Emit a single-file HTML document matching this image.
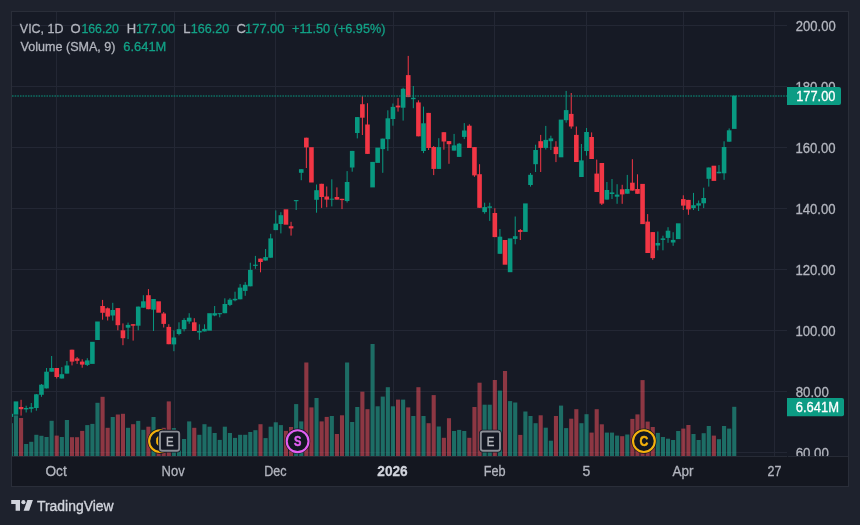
<!DOCTYPE html>
<html><head><meta charset="utf-8"><style>
html,body{margin:0;padding:0;width:860px;height:525px;overflow:hidden;background:#1e222d;}
svg{position:absolute;left:0;top:0;display:block;will-change:transform;}
text{font-family:"Liberation Sans",sans-serif;}
</style></head><body>
<svg width="860" height="525" viewBox="0 0 860 525">
<rect x="0" y="0" width="860" height="525" fill="#1e222d"/>
<rect x="11" y="11" width="838" height="476" fill="#161a25"/>
<rect x="12" y="457" width="836" height="29" fill="#141720"/>
<rect x="11" y="11" width="838" height="1" fill="#2a2e39"/>
<rect x="11" y="486" width="838" height="1" fill="#2a2e39"/>
<rect x="11" y="11" width="1" height="476" fill="#2a2e39"/>
<rect x="848" y="11" width="1" height="476" fill="#2a2e39"/>
<rect x="12" y="25" width="775" height="1" fill="#232734"/>
<rect x="12" y="86" width="775" height="1" fill="#232734"/>
<rect x="12" y="147" width="775" height="1" fill="#232734"/>
<rect x="12" y="208" width="775" height="1" fill="#232734"/>
<rect x="12" y="269" width="775" height="1" fill="#232734"/>
<rect x="12" y="330" width="775" height="1" fill="#232734"/>
<rect x="12" y="391" width="775" height="1" fill="#232734"/>
<rect x="12" y="452" width="775" height="1" fill="#232734"/>
<rect x="56" y="12" width="1" height="444" fill="#232734"/>
<rect x="174" y="12" width="1" height="444" fill="#232734"/>
<rect x="275" y="12" width="1" height="444" fill="#232734"/>
<rect x="393" y="12" width="1" height="444" fill="#232734"/>
<rect x="494" y="12" width="1" height="444" fill="#232734"/>
<rect x="586" y="12" width="1" height="444" fill="#232734"/>
<rect x="683" y="12" width="1" height="444" fill="#232734"/>
<rect x="774" y="12" width="1" height="444" fill="#232734"/>
<rect x="12" y="456" width="775" height="1" fill="#272b36"/>
<rect x="788" y="456" width="60" height="1" fill="#272b36"/>
<defs><clipPath id="pane"><rect x="12" y="12" width="775" height="444"/></clipPath><clipPath id="pax"><rect x="787" y="12" width="61" height="444"/></clipPath></defs>
<g clip-path="url(#pane)">
<rect x="8.83" y="423.2" width="4.1" height="32.8" fill="rgba(34,171,148,0.58)"/>
<rect x="13.92" y="415.4" width="4.1" height="40.6" fill="rgba(34,171,148,0.58)"/>
<rect x="19.02" y="418.0" width="4.1" height="38.0" fill="rgba(247,82,95,0.53)"/>
<rect x="24.11" y="444.0" width="4.1" height="12.0" fill="rgba(34,171,148,0.58)"/>
<rect x="29.21" y="441.8" width="4.1" height="14.2" fill="rgba(34,171,148,0.58)"/>
<rect x="34.30" y="434.8" width="4.1" height="21.2" fill="rgba(34,171,148,0.58)"/>
<rect x="39.40" y="435.8" width="4.1" height="20.2" fill="rgba(34,171,148,0.58)"/>
<rect x="44.49" y="437.0" width="4.1" height="19.0" fill="rgba(34,171,148,0.58)"/>
<rect x="49.58" y="420.8" width="4.1" height="35.2" fill="rgba(34,171,148,0.58)"/>
<rect x="54.68" y="435.6" width="4.1" height="20.4" fill="rgba(247,82,95,0.53)"/>
<rect x="59.77" y="437.0" width="4.1" height="19.0" fill="rgba(34,171,148,0.58)"/>
<rect x="64.87" y="420.0" width="4.1" height="36.0" fill="rgba(34,171,148,0.58)"/>
<rect x="69.96" y="437.2" width="4.1" height="18.8" fill="rgba(247,82,95,0.53)"/>
<rect x="75.05" y="437.2" width="4.1" height="18.8" fill="rgba(247,82,95,0.53)"/>
<rect x="80.15" y="430.9" width="4.1" height="25.1" fill="rgba(247,82,95,0.53)"/>
<rect x="85.24" y="425.1" width="4.1" height="30.9" fill="rgba(34,171,148,0.58)"/>
<rect x="90.34" y="423.9" width="4.1" height="32.1" fill="rgba(34,171,148,0.58)"/>
<rect x="95.43" y="402.8" width="4.1" height="53.2" fill="rgba(34,171,148,0.58)"/>
<rect x="100.53" y="396.8" width="4.1" height="59.2" fill="rgba(247,82,95,0.53)"/>
<rect x="105.62" y="427.8" width="4.1" height="28.2" fill="rgba(247,82,95,0.53)"/>
<rect x="110.71" y="417.0" width="4.1" height="39.0" fill="rgba(34,171,148,0.58)"/>
<rect x="115.81" y="414.5" width="4.1" height="41.5" fill="rgba(247,82,95,0.53)"/>
<rect x="120.90" y="413.8" width="4.1" height="42.2" fill="rgba(247,82,95,0.53)"/>
<rect x="126.00" y="427.8" width="4.1" height="28.2" fill="rgba(34,171,148,0.58)"/>
<rect x="131.09" y="424.2" width="4.1" height="31.8" fill="rgba(247,82,95,0.53)"/>
<rect x="136.18" y="420.9" width="4.1" height="35.1" fill="rgba(34,171,148,0.58)"/>
<rect x="141.28" y="429.8" width="4.1" height="26.2" fill="rgba(34,171,148,0.58)"/>
<rect x="146.37" y="426.7" width="4.1" height="29.3" fill="rgba(247,82,95,0.53)"/>
<rect x="151.47" y="417.0" width="4.1" height="39.0" fill="rgba(34,171,148,0.58)"/>
<rect x="156.56" y="430.0" width="4.1" height="26.0" fill="rgba(247,82,95,0.53)"/>
<rect x="161.66" y="427.8" width="4.1" height="28.2" fill="rgba(247,82,95,0.53)"/>
<rect x="166.75" y="401.4" width="4.1" height="54.6" fill="rgba(247,82,95,0.53)"/>
<rect x="171.84" y="428.1" width="4.1" height="27.9" fill="rgba(34,171,148,0.58)"/>
<rect x="176.94" y="440.0" width="4.1" height="16.0" fill="rgba(34,171,148,0.58)"/>
<rect x="182.03" y="439.0" width="4.1" height="17.0" fill="rgba(34,171,148,0.58)"/>
<rect x="187.13" y="421.4" width="4.1" height="34.6" fill="rgba(34,171,148,0.58)"/>
<rect x="192.22" y="427.8" width="4.1" height="28.2" fill="rgba(247,82,95,0.53)"/>
<rect x="197.32" y="434.8" width="4.1" height="21.2" fill="rgba(34,171,148,0.58)"/>
<rect x="202.41" y="424.2" width="4.1" height="31.8" fill="rgba(34,171,148,0.58)"/>
<rect x="207.50" y="426.7" width="4.1" height="29.3" fill="rgba(34,171,148,0.58)"/>
<rect x="212.60" y="433.0" width="4.1" height="23.0" fill="rgba(34,171,148,0.58)"/>
<rect x="217.69" y="439.9" width="4.1" height="16.1" fill="rgba(34,171,148,0.58)"/>
<rect x="222.79" y="426.7" width="4.1" height="29.3" fill="rgba(34,171,148,0.58)"/>
<rect x="227.88" y="433.0" width="4.1" height="23.0" fill="rgba(34,171,148,0.58)"/>
<rect x="232.97" y="437.9" width="4.1" height="18.1" fill="rgba(34,171,148,0.58)"/>
<rect x="238.07" y="434.8" width="4.1" height="21.2" fill="rgba(34,171,148,0.58)"/>
<rect x="243.16" y="434.8" width="4.1" height="21.2" fill="rgba(34,171,148,0.58)"/>
<rect x="248.26" y="432.0" width="4.1" height="24.0" fill="rgba(34,171,148,0.58)"/>
<rect x="253.35" y="430.2" width="4.1" height="25.8" fill="rgba(34,171,148,0.58)"/>
<rect x="258.45" y="424.2" width="4.1" height="31.8" fill="rgba(247,82,95,0.53)"/>
<rect x="263.54" y="438.1" width="4.1" height="17.9" fill="rgba(34,171,148,0.58)"/>
<rect x="268.63" y="426.7" width="4.1" height="29.3" fill="rgba(34,171,148,0.58)"/>
<rect x="273.73" y="422.3" width="4.1" height="33.7" fill="rgba(34,171,148,0.58)"/>
<rect x="278.82" y="425.1" width="4.1" height="30.9" fill="rgba(34,171,148,0.58)"/>
<rect x="283.92" y="430.9" width="4.1" height="25.1" fill="rgba(247,82,95,0.53)"/>
<rect x="289.01" y="427.0" width="4.1" height="29.0" fill="rgba(247,82,95,0.53)"/>
<rect x="294.11" y="404.1" width="4.1" height="51.9" fill="rgba(34,171,148,0.58)"/>
<rect x="299.20" y="421.4" width="4.1" height="34.6" fill="rgba(34,171,148,0.58)"/>
<rect x="304.29" y="362.5" width="4.1" height="93.5" fill="rgba(247,82,95,0.53)"/>
<rect x="309.39" y="407.4" width="4.1" height="48.6" fill="rgba(247,82,95,0.53)"/>
<rect x="314.48" y="398.0" width="4.1" height="58.0" fill="rgba(34,171,148,0.58)"/>
<rect x="319.58" y="421.4" width="4.1" height="34.6" fill="rgba(247,82,95,0.53)"/>
<rect x="324.67" y="416.9" width="4.1" height="39.1" fill="rgba(247,82,95,0.53)"/>
<rect x="329.76" y="416.0" width="4.1" height="40.0" fill="rgba(34,171,148,0.58)"/>
<rect x="334.86" y="434.0" width="4.1" height="22.0" fill="rgba(247,82,95,0.53)"/>
<rect x="339.95" y="415.3" width="4.1" height="40.7" fill="rgba(247,82,95,0.53)"/>
<rect x="345.05" y="362.5" width="4.1" height="93.5" fill="rgba(34,171,148,0.58)"/>
<rect x="350.14" y="422.0" width="4.1" height="34.0" fill="rgba(34,171,148,0.58)"/>
<rect x="355.24" y="407.0" width="4.1" height="49.0" fill="rgba(34,171,148,0.58)"/>
<rect x="360.33" y="391.7" width="4.1" height="64.3" fill="rgba(247,82,95,0.53)"/>
<rect x="365.42" y="409.2" width="4.1" height="46.8" fill="rgba(247,82,95,0.53)"/>
<rect x="370.52" y="344.0" width="4.1" height="112.0" fill="rgba(34,171,148,0.58)"/>
<rect x="375.61" y="406.3" width="4.1" height="49.7" fill="rgba(34,171,148,0.58)"/>
<rect x="380.71" y="396.6" width="4.1" height="59.4" fill="rgba(34,171,148,0.58)"/>
<rect x="385.80" y="387.2" width="4.1" height="68.8" fill="rgba(34,171,148,0.58)"/>
<rect x="390.89" y="406.3" width="4.1" height="49.7" fill="rgba(34,171,148,0.58)"/>
<rect x="395.99" y="399.6" width="4.1" height="56.4" fill="rgba(247,82,95,0.53)"/>
<rect x="401.08" y="399.6" width="4.1" height="56.4" fill="rgba(34,171,148,0.58)"/>
<rect x="406.18" y="407.4" width="4.1" height="48.6" fill="rgba(247,82,95,0.53)"/>
<rect x="411.27" y="416.0" width="4.1" height="40.0" fill="rgba(34,171,148,0.58)"/>
<rect x="416.37" y="387.2" width="4.1" height="68.8" fill="rgba(247,82,95,0.53)"/>
<rect x="421.46" y="416.0" width="4.1" height="40.0" fill="rgba(34,171,148,0.58)"/>
<rect x="426.55" y="423.2" width="4.1" height="32.8" fill="rgba(247,82,95,0.53)"/>
<rect x="431.65" y="395.1" width="4.1" height="60.9" fill="rgba(247,82,95,0.53)"/>
<rect x="436.74" y="426.5" width="4.1" height="29.5" fill="rgba(34,171,148,0.58)"/>
<rect x="441.84" y="437.8" width="4.1" height="18.2" fill="rgba(247,82,95,0.53)"/>
<rect x="446.93" y="418.2" width="4.1" height="37.8" fill="rgba(247,82,95,0.53)"/>
<rect x="452.03" y="431.0" width="4.1" height="25.0" fill="rgba(34,171,148,0.58)"/>
<rect x="457.12" y="429.9" width="4.1" height="26.1" fill="rgba(34,171,148,0.58)"/>
<rect x="462.21" y="431.0" width="4.1" height="25.0" fill="rgba(34,171,148,0.58)"/>
<rect x="467.31" y="437.8" width="4.1" height="18.2" fill="rgba(247,82,95,0.53)"/>
<rect x="472.40" y="407.0" width="4.1" height="49.0" fill="rgba(247,82,95,0.53)"/>
<rect x="477.50" y="382.7" width="4.1" height="73.3" fill="rgba(247,82,95,0.53)"/>
<rect x="482.59" y="404.7" width="4.1" height="51.3" fill="rgba(34,171,148,0.58)"/>
<rect x="487.68" y="404.7" width="4.1" height="51.3" fill="rgba(34,171,148,0.58)"/>
<rect x="492.78" y="380.0" width="4.1" height="76.0" fill="rgba(247,82,95,0.53)"/>
<rect x="497.87" y="390.6" width="4.1" height="65.4" fill="rgba(34,171,148,0.58)"/>
<rect x="502.97" y="371.0" width="4.1" height="85.0" fill="rgba(247,82,95,0.53)"/>
<rect x="508.06" y="401.1" width="4.1" height="54.9" fill="rgba(34,171,148,0.58)"/>
<rect x="513.16" y="402.5" width="4.1" height="53.5" fill="rgba(34,171,148,0.58)"/>
<rect x="518.25" y="434.9" width="4.1" height="21.1" fill="rgba(247,82,95,0.53)"/>
<rect x="523.34" y="411.5" width="4.1" height="44.5" fill="rgba(34,171,148,0.58)"/>
<rect x="528.44" y="416.0" width="4.1" height="40.0" fill="rgba(34,171,148,0.58)"/>
<rect x="533.53" y="423.2" width="4.1" height="32.8" fill="rgba(34,171,148,0.58)"/>
<rect x="538.63" y="415.3" width="4.1" height="40.7" fill="rgba(247,82,95,0.53)"/>
<rect x="543.72" y="427.7" width="4.1" height="28.3" fill="rgba(34,171,148,0.58)"/>
<rect x="548.82" y="440.7" width="4.1" height="15.3" fill="rgba(34,171,148,0.58)"/>
<rect x="553.91" y="416.0" width="4.1" height="40.0" fill="rgba(247,82,95,0.53)"/>
<rect x="559.00" y="405.6" width="4.1" height="50.4" fill="rgba(34,171,148,0.58)"/>
<rect x="564.10" y="428.1" width="4.1" height="27.9" fill="rgba(34,171,148,0.58)"/>
<rect x="569.19" y="418.7" width="4.1" height="37.3" fill="rgba(247,82,95,0.53)"/>
<rect x="574.29" y="409.2" width="4.1" height="46.8" fill="rgba(247,82,95,0.53)"/>
<rect x="579.38" y="423.2" width="4.1" height="32.8" fill="rgba(34,171,148,0.58)"/>
<rect x="584.47" y="414.2" width="4.1" height="41.8" fill="rgba(34,171,148,0.58)"/>
<rect x="589.57" y="432.6" width="4.1" height="23.4" fill="rgba(247,82,95,0.53)"/>
<rect x="594.66" y="409.2" width="4.1" height="46.8" fill="rgba(247,82,95,0.53)"/>
<rect x="599.76" y="424.3" width="4.1" height="31.7" fill="rgba(247,82,95,0.53)"/>
<rect x="604.85" y="432.6" width="4.1" height="23.4" fill="rgba(34,171,148,0.58)"/>
<rect x="609.95" y="432.6" width="4.1" height="23.4" fill="rgba(34,171,148,0.58)"/>
<rect x="615.04" y="435.6" width="4.1" height="20.4" fill="rgba(34,171,148,0.58)"/>
<rect x="620.13" y="436.2" width="4.1" height="19.8" fill="rgba(247,82,95,0.53)"/>
<rect x="625.23" y="434.5" width="4.1" height="21.5" fill="rgba(34,171,148,0.58)"/>
<rect x="630.32" y="418.9" width="4.1" height="37.1" fill="rgba(247,82,95,0.53)"/>
<rect x="635.42" y="414.4" width="4.1" height="41.6" fill="rgba(247,82,95,0.53)"/>
<rect x="640.51" y="380.1" width="4.1" height="75.9" fill="rgba(247,82,95,0.53)"/>
<rect x="645.61" y="421.6" width="4.1" height="34.4" fill="rgba(247,82,95,0.53)"/>
<rect x="650.70" y="427.0" width="4.1" height="29.0" fill="rgba(247,82,95,0.53)"/>
<rect x="655.79" y="432.9" width="4.1" height="23.1" fill="rgba(34,171,148,0.58)"/>
<rect x="660.89" y="437.0" width="4.1" height="19.0" fill="rgba(34,171,148,0.58)"/>
<rect x="665.98" y="438.7" width="4.1" height="17.3" fill="rgba(34,171,148,0.58)"/>
<rect x="671.08" y="440.0" width="4.1" height="16.0" fill="rgba(34,171,148,0.58)"/>
<rect x="676.17" y="431.0" width="4.1" height="25.0" fill="rgba(34,171,148,0.58)"/>
<rect x="681.26" y="428.6" width="4.1" height="27.4" fill="rgba(247,82,95,0.53)"/>
<rect x="686.36" y="425.0" width="4.1" height="31.0" fill="rgba(247,82,95,0.53)"/>
<rect x="691.45" y="434.0" width="4.1" height="22.0" fill="rgba(34,171,148,0.58)"/>
<rect x="696.55" y="440.0" width="4.1" height="16.0" fill="rgba(34,171,148,0.58)"/>
<rect x="701.64" y="433.2" width="4.1" height="22.8" fill="rgba(34,171,148,0.58)"/>
<rect x="706.74" y="426.0" width="4.1" height="30.0" fill="rgba(34,171,148,0.58)"/>
<rect x="711.83" y="435.6" width="4.1" height="20.4" fill="rgba(247,82,95,0.53)"/>
<rect x="716.92" y="439.2" width="4.1" height="16.8" fill="rgba(34,171,148,0.58)"/>
<rect x="722.02" y="426.0" width="4.1" height="30.0" fill="rgba(34,171,148,0.58)"/>
<rect x="727.11" y="428.6" width="4.1" height="27.4" fill="rgba(34,171,148,0.58)"/>
<rect x="732.21" y="406.8" width="4.1" height="49.2" fill="rgba(34,171,148,0.58)"/>
<rect x="8.58" y="413.8" width="4.6" height="3.1" fill="#089981"/>
<rect x="13.67" y="401.4" width="4.6" height="13.2" fill="#089981"/>
<rect x="20.57" y="399.8" width="1.0" height="15.8" fill="#f23645"/>
<rect x="18.77" y="407.0" width="4.6" height="2.2" fill="#f23645"/>
<rect x="25.66" y="405.7" width="1.0" height="6.8" fill="#089981"/>
<rect x="23.86" y="408.0" width="4.6" height="1.4" fill="#089981"/>
<rect x="30.76" y="403.0" width="1.0" height="9.5" fill="#089981"/>
<rect x="28.96" y="407.2" width="4.6" height="1.6" fill="#089981"/>
<rect x="35.85" y="394.0" width="1.0" height="16.7" fill="#089981"/>
<rect x="34.05" y="394.3" width="4.6" height="13.7" fill="#089981"/>
<rect x="40.95" y="384.0" width="1.0" height="12.8" fill="#089981"/>
<rect x="39.15" y="384.7" width="4.6" height="10.1" fill="#089981"/>
<rect x="46.04" y="368.0" width="1.0" height="20.4" fill="#089981"/>
<rect x="44.24" y="371.7" width="4.6" height="16.7" fill="#089981"/>
<rect x="51.13" y="356.0" width="1.0" height="15.7" fill="#089981"/>
<rect x="49.33" y="368.0" width="4.6" height="3.7" fill="#089981"/>
<rect x="56.23" y="368.0" width="1.0" height="10.5" fill="#f23645"/>
<rect x="54.43" y="368.0" width="4.6" height="9.0" fill="#f23645"/>
<rect x="61.32" y="367.1" width="1.0" height="11.4" fill="#089981"/>
<rect x="59.52" y="374.2" width="4.6" height="4.3" fill="#089981"/>
<rect x="66.42" y="361.0" width="1.0" height="12.6" fill="#089981"/>
<rect x="64.62" y="365.5" width="4.6" height="8.1" fill="#089981"/>
<rect x="71.51" y="349.7" width="1.0" height="15.7" fill="#f23645"/>
<rect x="69.71" y="349.7" width="4.6" height="11.9" fill="#f23645"/>
<rect x="76.60" y="357.0" width="1.0" height="6.9" fill="#f23645"/>
<rect x="74.80" y="358.5" width="4.6" height="2.3" fill="#f23645"/>
<rect x="81.70" y="359.3" width="1.0" height="8.4" fill="#f23645"/>
<rect x="79.90" y="361.6" width="4.6" height="3.0" fill="#f23645"/>
<rect x="86.79" y="358.2" width="1.0" height="7.8" fill="#089981"/>
<rect x="84.99" y="360.4" width="4.6" height="4.5" fill="#089981"/>
<rect x="90.09" y="341.8" width="4.6" height="22.1" fill="#089981"/>
<rect x="95.18" y="321.5" width="4.6" height="18.5" fill="#089981"/>
<rect x="102.08" y="299.9" width="1.0" height="19.8" fill="#f23645"/>
<rect x="100.28" y="306.0" width="4.6" height="6.8" fill="#f23645"/>
<rect x="107.17" y="307.5" width="1.0" height="13.0" fill="#f23645"/>
<rect x="105.37" y="308.3" width="4.6" height="8.3" fill="#f23645"/>
<rect x="112.26" y="302.8" width="1.0" height="17.8" fill="#089981"/>
<rect x="110.46" y="310.0" width="4.6" height="5.5" fill="#089981"/>
<rect x="117.36" y="308.1" width="1.0" height="22.2" fill="#f23645"/>
<rect x="115.56" y="308.1" width="4.6" height="17.1" fill="#f23645"/>
<rect x="122.45" y="323.4" width="1.0" height="21.8" fill="#f23645"/>
<rect x="120.65" y="330.3" width="4.6" height="7.9" fill="#f23645"/>
<rect x="127.55" y="322.6" width="1.0" height="16.5" fill="#089981"/>
<rect x="125.75" y="324.9" width="4.6" height="2.8" fill="#089981"/>
<rect x="132.64" y="324.2" width="1.0" height="16.4" fill="#f23645"/>
<rect x="130.84" y="324.2" width="4.6" height="1.5" fill="#f23645"/>
<rect x="137.73" y="306.6" width="1.0" height="23.7" fill="#089981"/>
<rect x="135.93" y="306.6" width="4.6" height="19.1" fill="#089981"/>
<rect x="142.83" y="295.2" width="1.0" height="12.5" fill="#089981"/>
<rect x="141.03" y="301.3" width="4.6" height="6.4" fill="#089981"/>
<rect x="147.92" y="289.1" width="1.0" height="20.1" fill="#f23645"/>
<rect x="146.12" y="295.2" width="4.6" height="14.0" fill="#f23645"/>
<rect x="153.02" y="299.0" width="1.0" height="32.0" fill="#089981"/>
<rect x="151.22" y="299.0" width="4.6" height="10.7" fill="#089981"/>
<rect x="156.31" y="301.3" width="4.6" height="11.4" fill="#f23645"/>
<rect x="163.21" y="312.0" width="1.0" height="15.5" fill="#f23645"/>
<rect x="161.41" y="313.5" width="4.6" height="10.4" fill="#f23645"/>
<rect x="168.30" y="324.2" width="1.0" height="20.0" fill="#f23645"/>
<rect x="166.50" y="326.9" width="4.6" height="17.3" fill="#f23645"/>
<rect x="173.39" y="330.4" width="1.0" height="20.8" fill="#089981"/>
<rect x="171.59" y="337.5" width="4.6" height="6.9" fill="#089981"/>
<rect x="178.49" y="322.3" width="1.0" height="13.0" fill="#089981"/>
<rect x="176.69" y="329.2" width="4.6" height="4.8" fill="#089981"/>
<rect x="183.58" y="318.2" width="1.0" height="13.2" fill="#089981"/>
<rect x="181.78" y="320.0" width="4.6" height="9.2" fill="#089981"/>
<rect x="188.68" y="313.2" width="1.0" height="10.6" fill="#089981"/>
<rect x="186.88" y="317.7" width="4.6" height="3.8" fill="#089981"/>
<rect x="193.77" y="318.2" width="1.0" height="12.8" fill="#f23645"/>
<rect x="191.97" y="322.3" width="4.6" height="8.7" fill="#f23645"/>
<rect x="198.87" y="324.3" width="1.0" height="15.5" fill="#089981"/>
<rect x="197.07" y="331.0" width="4.6" height="1.5" fill="#089981"/>
<rect x="203.96" y="324.3" width="1.0" height="7.1" fill="#089981"/>
<rect x="202.16" y="328.9" width="4.6" height="2.5" fill="#089981"/>
<rect x="207.25" y="313.2" width="4.6" height="17.5" fill="#089981"/>
<rect x="214.15" y="306.0" width="1.0" height="10.2" fill="#089981"/>
<rect x="212.35" y="313.2" width="4.6" height="2.3" fill="#089981"/>
<rect x="219.24" y="313.2" width="1.0" height="4.1" fill="#089981"/>
<rect x="217.44" y="313.2" width="4.6" height="1.0" fill="#089981"/>
<rect x="224.34" y="298.3" width="1.0" height="14.9" fill="#089981"/>
<rect x="222.54" y="304.0" width="4.6" height="9.2" fill="#089981"/>
<rect x="229.43" y="298.2" width="1.0" height="7.9" fill="#089981"/>
<rect x="227.63" y="299.7" width="4.6" height="5.2" fill="#089981"/>
<rect x="234.52" y="291.7" width="1.0" height="9.6" fill="#089981"/>
<rect x="232.72" y="298.8" width="4.6" height="1.5" fill="#089981"/>
<rect x="239.62" y="284.1" width="1.0" height="15.2" fill="#089981"/>
<rect x="237.82" y="287.6" width="4.6" height="11.7" fill="#089981"/>
<rect x="244.71" y="282.1" width="1.0" height="13.7" fill="#089981"/>
<rect x="242.91" y="284.8" width="4.6" height="6.1" fill="#089981"/>
<rect x="249.81" y="262.7" width="1.0" height="23.6" fill="#089981"/>
<rect x="248.01" y="269.9" width="4.6" height="16.4" fill="#089981"/>
<rect x="254.90" y="255.9" width="1.0" height="12.9" fill="#089981"/>
<rect x="253.10" y="264.7" width="4.6" height="1.2" fill="#089981"/>
<rect x="260.00" y="258.6" width="1.0" height="13.7" fill="#f23645"/>
<rect x="258.20" y="258.6" width="4.6" height="3.4" fill="#f23645"/>
<rect x="265.09" y="249.0" width="1.0" height="11.5" fill="#089981"/>
<rect x="263.29" y="257.1" width="4.6" height="3.4" fill="#089981"/>
<rect x="270.18" y="233.8" width="1.0" height="23.9" fill="#089981"/>
<rect x="268.38" y="238.4" width="4.6" height="19.3" fill="#089981"/>
<rect x="275.28" y="210.4" width="1.0" height="19.7" fill="#089981"/>
<rect x="273.48" y="223.6" width="4.6" height="6.5" fill="#089981"/>
<rect x="280.37" y="212.2" width="1.0" height="21.2" fill="#089981"/>
<rect x="278.57" y="215.2" width="4.6" height="8.8" fill="#089981"/>
<rect x="283.67" y="209.3" width="4.6" height="15.4" fill="#f23645"/>
<rect x="290.56" y="221.8" width="1.0" height="13.8" fill="#f23645"/>
<rect x="288.76" y="226.2" width="4.6" height="2.2" fill="#f23645"/>
<rect x="295.66" y="200.1" width="1.0" height="9.9" fill="#089981"/>
<rect x="293.86" y="200.1" width="4.6" height="1.1" fill="#089981"/>
<rect x="300.75" y="169.2" width="1.0" height="11.0" fill="#089981"/>
<rect x="298.95" y="169.2" width="4.6" height="3.6" fill="#089981"/>
<rect x="305.84" y="137.7" width="1.0" height="30.3" fill="#f23645"/>
<rect x="304.04" y="137.7" width="4.6" height="9.7" fill="#f23645"/>
<rect x="309.14" y="147.2" width="4.6" height="35.3" fill="#f23645"/>
<rect x="316.03" y="184.5" width="1.0" height="28.2" fill="#089981"/>
<rect x="314.23" y="190.2" width="4.6" height="9.6" fill="#089981"/>
<rect x="321.13" y="183.8" width="1.0" height="24.1" fill="#f23645"/>
<rect x="319.33" y="183.8" width="4.6" height="13.2" fill="#f23645"/>
<rect x="326.22" y="186.5" width="1.0" height="20.8" fill="#f23645"/>
<rect x="324.42" y="196.5" width="4.6" height="3.1" fill="#f23645"/>
<rect x="331.31" y="179.3" width="1.0" height="27.1" fill="#089981"/>
<rect x="329.51" y="198.7" width="4.6" height="1.0" fill="#089981"/>
<rect x="336.41" y="187.4" width="1.0" height="12.2" fill="#f23645"/>
<rect x="334.61" y="197.0" width="4.6" height="2.6" fill="#f23645"/>
<rect x="341.50" y="198.8" width="1.0" height="10.3" fill="#f23645"/>
<rect x="339.70" y="198.8" width="4.6" height="1.3" fill="#f23645"/>
<rect x="346.60" y="171.1" width="1.0" height="31.4" fill="#089981"/>
<rect x="344.80" y="182.0" width="4.6" height="19.0" fill="#089981"/>
<rect x="351.69" y="150.9" width="1.0" height="20.8" fill="#089981"/>
<rect x="349.89" y="150.9" width="4.6" height="16.6" fill="#089981"/>
<rect x="356.79" y="117.1" width="1.0" height="21.3" fill="#089981"/>
<rect x="354.99" y="117.1" width="4.6" height="15.9" fill="#089981"/>
<rect x="361.88" y="96.2" width="1.0" height="38.8" fill="#f23645"/>
<rect x="360.08" y="104.2" width="4.6" height="13.5" fill="#f23645"/>
<rect x="366.97" y="103.2" width="1.0" height="50.7" fill="#f23645"/>
<rect x="365.17" y="124.5" width="4.6" height="29.4" fill="#f23645"/>
<rect x="370.27" y="161.9" width="4.6" height="25.5" fill="#089981"/>
<rect x="375.36" y="147.6" width="4.6" height="15.3" fill="#089981"/>
<rect x="382.26" y="138.6" width="1.0" height="34.2" fill="#089981"/>
<rect x="380.46" y="138.6" width="4.6" height="10.5" fill="#089981"/>
<rect x="387.35" y="110.3" width="1.0" height="40.5" fill="#089981"/>
<rect x="385.55" y="118.3" width="4.6" height="20.9" fill="#089981"/>
<rect x="392.44" y="103.5" width="1.0" height="22.2" fill="#089981"/>
<rect x="390.64" y="106.9" width="4.6" height="12.1" fill="#089981"/>
<rect x="397.54" y="98.1" width="1.0" height="13.5" fill="#f23645"/>
<rect x="395.74" y="105.6" width="4.6" height="1.8" fill="#f23645"/>
<rect x="402.63" y="87.7" width="1.0" height="32.9" fill="#089981"/>
<rect x="400.83" y="88.8" width="4.6" height="18.9" fill="#089981"/>
<rect x="407.73" y="55.9" width="1.0" height="41.2" fill="#f23645"/>
<rect x="405.93" y="75.1" width="4.6" height="22.0" fill="#f23645"/>
<rect x="412.82" y="86.0" width="1.0" height="22.2" fill="#089981"/>
<rect x="411.02" y="97.8" width="4.6" height="1.4" fill="#089981"/>
<rect x="417.92" y="100.3" width="1.0" height="36.0" fill="#f23645"/>
<rect x="416.12" y="102.4" width="4.6" height="33.9" fill="#f23645"/>
<rect x="423.01" y="106.6" width="1.0" height="46.5" fill="#089981"/>
<rect x="421.21" y="123.3" width="4.6" height="27.7" fill="#089981"/>
<rect x="428.10" y="112.9" width="1.0" height="37.1" fill="#f23645"/>
<rect x="426.30" y="112.9" width="4.6" height="35.1" fill="#f23645"/>
<rect x="433.20" y="146.0" width="1.0" height="29.1" fill="#f23645"/>
<rect x="431.40" y="147.0" width="4.6" height="21.9" fill="#f23645"/>
<rect x="438.29" y="138.2" width="1.0" height="30.7" fill="#089981"/>
<rect x="436.49" y="147.1" width="4.6" height="21.8" fill="#089981"/>
<rect x="443.39" y="132.2" width="1.0" height="17.5" fill="#f23645"/>
<rect x="441.59" y="132.2" width="4.6" height="9.3" fill="#f23645"/>
<rect x="448.48" y="141.1" width="1.0" height="22.7" fill="#f23645"/>
<rect x="446.68" y="141.1" width="4.6" height="3.1" fill="#f23645"/>
<rect x="453.58" y="133.9" width="1.0" height="16.7" fill="#089981"/>
<rect x="451.78" y="145.4" width="4.6" height="5.2" fill="#089981"/>
<rect x="458.67" y="142.9" width="1.0" height="14.0" fill="#089981"/>
<rect x="456.87" y="143.7" width="4.6" height="13.2" fill="#089981"/>
<rect x="463.76" y="123.1" width="1.0" height="16.0" fill="#089981"/>
<rect x="461.96" y="130.5" width="4.6" height="6.4" fill="#089981"/>
<rect x="468.86" y="124.3" width="1.0" height="23.7" fill="#f23645"/>
<rect x="467.06" y="125.7" width="4.6" height="22.3" fill="#f23645"/>
<rect x="473.95" y="147.1" width="1.0" height="29.7" fill="#f23645"/>
<rect x="472.15" y="147.1" width="4.6" height="28.3" fill="#f23645"/>
<rect x="479.05" y="164.2" width="1.0" height="43.6" fill="#f23645"/>
<rect x="477.25" y="174.2" width="4.6" height="33.6" fill="#f23645"/>
<rect x="484.14" y="202.7" width="1.0" height="11.0" fill="#089981"/>
<rect x="482.34" y="207.1" width="4.6" height="5.0" fill="#089981"/>
<rect x="489.23" y="202.7" width="1.0" height="18.2" fill="#089981"/>
<rect x="487.43" y="206.4" width="4.6" height="1.4" fill="#089981"/>
<rect x="494.33" y="208.2" width="1.0" height="28.9" fill="#f23645"/>
<rect x="492.53" y="213.0" width="4.6" height="24.1" fill="#f23645"/>
<rect x="499.42" y="229.0" width="1.0" height="24.8" fill="#089981"/>
<rect x="497.62" y="236.7" width="4.6" height="17.1" fill="#089981"/>
<rect x="502.72" y="240.0" width="4.6" height="24.7" fill="#f23645"/>
<rect x="507.81" y="238.4" width="4.6" height="33.8" fill="#089981"/>
<rect x="514.71" y="216.5" width="1.0" height="27.8" fill="#089981"/>
<rect x="512.91" y="236.2" width="4.6" height="2.7" fill="#089981"/>
<rect x="519.80" y="229.0" width="1.0" height="11.0" fill="#f23645"/>
<rect x="518.00" y="230.1" width="4.6" height="1.8" fill="#f23645"/>
<rect x="523.09" y="203.4" width="4.6" height="28.5" fill="#089981"/>
<rect x="529.99" y="173.0" width="1.0" height="13.6" fill="#089981"/>
<rect x="528.19" y="174.8" width="4.6" height="10.2" fill="#089981"/>
<rect x="535.08" y="144.7" width="1.0" height="27.3" fill="#089981"/>
<rect x="533.28" y="150.0" width="4.6" height="14.2" fill="#089981"/>
<rect x="540.18" y="134.9" width="1.0" height="37.1" fill="#f23645"/>
<rect x="538.38" y="141.2" width="4.6" height="6.7" fill="#f23645"/>
<rect x="545.27" y="125.9" width="1.0" height="23.6" fill="#089981"/>
<rect x="543.47" y="139.9" width="4.6" height="8.0" fill="#089981"/>
<rect x="550.37" y="135.7" width="1.0" height="14.3" fill="#089981"/>
<rect x="548.57" y="138.4" width="4.6" height="2.8" fill="#089981"/>
<rect x="555.46" y="141.2" width="1.0" height="20.9" fill="#f23645"/>
<rect x="553.66" y="146.8" width="4.6" height="7.3" fill="#f23645"/>
<rect x="558.75" y="119.6" width="4.6" height="37.7" fill="#089981"/>
<rect x="565.65" y="90.9" width="1.0" height="31.8" fill="#089981"/>
<rect x="563.85" y="110.1" width="4.6" height="10.1" fill="#089981"/>
<rect x="570.74" y="93.0" width="1.0" height="35.7" fill="#f23645"/>
<rect x="568.94" y="113.9" width="4.6" height="12.6" fill="#f23645"/>
<rect x="575.84" y="126.5" width="1.0" height="35.5" fill="#f23645"/>
<rect x="574.04" y="134.9" width="4.6" height="27.1" fill="#f23645"/>
<rect x="580.93" y="144.0" width="1.0" height="33.0" fill="#089981"/>
<rect x="579.13" y="160.4" width="4.6" height="16.6" fill="#089981"/>
<rect x="586.02" y="128.0" width="1.0" height="27.6" fill="#089981"/>
<rect x="584.22" y="132.0" width="4.6" height="19.0" fill="#089981"/>
<rect x="591.12" y="132.4" width="1.0" height="26.6" fill="#f23645"/>
<rect x="589.32" y="137.0" width="4.6" height="22.0" fill="#f23645"/>
<rect x="596.21" y="159.6" width="1.0" height="32.4" fill="#f23645"/>
<rect x="594.41" y="173.6" width="4.6" height="18.4" fill="#f23645"/>
<rect x="601.31" y="163.0" width="1.0" height="42.0" fill="#f23645"/>
<rect x="599.51" y="163.0" width="4.6" height="40.6" fill="#f23645"/>
<rect x="606.40" y="182.0" width="1.0" height="17.6" fill="#089981"/>
<rect x="604.60" y="190.0" width="4.6" height="9.6" fill="#089981"/>
<rect x="611.50" y="179.0" width="1.0" height="20.0" fill="#089981"/>
<rect x="609.70" y="192.4" width="4.6" height="1.6" fill="#089981"/>
<rect x="616.59" y="184.2" width="1.0" height="19.6" fill="#089981"/>
<rect x="614.79" y="194.6" width="4.6" height="2.1" fill="#089981"/>
<rect x="621.68" y="184.8" width="1.0" height="19.0" fill="#f23645"/>
<rect x="619.88" y="189.3" width="4.6" height="5.1" fill="#f23645"/>
<rect x="626.78" y="174.9" width="1.0" height="18.8" fill="#089981"/>
<rect x="624.98" y="189.0" width="4.6" height="4.7" fill="#089981"/>
<rect x="631.87" y="159.2" width="1.0" height="31.4" fill="#f23645"/>
<rect x="630.07" y="182.7" width="4.6" height="7.9" fill="#f23645"/>
<rect x="636.97" y="174.3" width="1.0" height="19.5" fill="#f23645"/>
<rect x="635.17" y="189.0" width="4.6" height="4.8" fill="#f23645"/>
<rect x="640.26" y="183.9" width="4.6" height="40.2" fill="#f23645"/>
<rect x="647.15" y="214.1" width="1.0" height="38.9" fill="#f23645"/>
<rect x="645.36" y="221.6" width="4.6" height="31.4" fill="#f23645"/>
<rect x="652.25" y="232.1" width="1.0" height="27.7" fill="#f23645"/>
<rect x="650.45" y="232.1" width="4.6" height="26.0" fill="#f23645"/>
<rect x="657.34" y="231.5" width="1.0" height="18.8" fill="#089981"/>
<rect x="655.54" y="243.0" width="4.6" height="2.5" fill="#089981"/>
<rect x="662.44" y="235.7" width="1.0" height="14.6" fill="#089981"/>
<rect x="660.64" y="238.4" width="4.6" height="1.5" fill="#089981"/>
<rect x="667.53" y="227.2" width="1.0" height="15.6" fill="#089981"/>
<rect x="665.73" y="230.7" width="4.6" height="7.2" fill="#089981"/>
<rect x="672.63" y="232.2" width="1.0" height="13.6" fill="#089981"/>
<rect x="670.83" y="239.9" width="4.6" height="2.6" fill="#089981"/>
<rect x="675.92" y="223.3" width="4.6" height="15.8" fill="#089981"/>
<rect x="682.81" y="195.3" width="1.0" height="14.7" fill="#f23645"/>
<rect x="681.01" y="199.1" width="4.6" height="6.5" fill="#f23645"/>
<rect x="687.91" y="199.9" width="1.0" height="14.9" fill="#f23645"/>
<rect x="686.11" y="199.9" width="4.6" height="9.5" fill="#f23645"/>
<rect x="693.00" y="192.9" width="1.0" height="17.1" fill="#089981"/>
<rect x="691.20" y="205.2" width="4.6" height="2.9" fill="#089981"/>
<rect x="698.10" y="200.5" width="1.0" height="10.5" fill="#089981"/>
<rect x="696.30" y="203.3" width="4.6" height="2.3" fill="#089981"/>
<rect x="703.19" y="187.7" width="1.0" height="20.4" fill="#089981"/>
<rect x="701.39" y="198.0" width="4.6" height="5.3" fill="#089981"/>
<rect x="708.29" y="167.5" width="1.0" height="19.1" fill="#089981"/>
<rect x="706.49" y="167.5" width="4.6" height="11.3" fill="#089981"/>
<rect x="711.58" y="165.7" width="4.6" height="15.2" fill="#f23645"/>
<rect x="718.47" y="165.1" width="1.0" height="8.2" fill="#089981"/>
<rect x="716.67" y="171.8" width="4.6" height="1.5" fill="#089981"/>
<rect x="723.57" y="141.3" width="1.0" height="38.5" fill="#089981"/>
<rect x="721.77" y="147.0" width="4.6" height="26.3" fill="#089981"/>
<rect x="728.66" y="128.4" width="1.0" height="13.3" fill="#089981"/>
<rect x="726.86" y="130.3" width="4.6" height="11.4" fill="#089981"/>
<rect x="731.96" y="95.6" width="4.6" height="33.3" fill="#089981"/>
<line x1="12" y1="96" x2="787" y2="96" stroke="#089981" stroke-width="1.2" stroke-dasharray="1.6 1.05"/>
</g>
<text x="795.77" y="30.7" font-size="14" font-weight="normal" fill="#b2b5be" stroke="#b2b5be" stroke-width="0.3" textLength="39.93" lengthAdjust="spacingAndGlyphs">200.00</text>
<text x="795.40" y="91.7" font-size="14" font-weight="normal" fill="#b2b5be" stroke="#b2b5be" stroke-width="0.3" textLength="40.19" lengthAdjust="spacingAndGlyphs">180.00</text>
<text x="795.40" y="152.7" font-size="14" font-weight="normal" fill="#b2b5be" stroke="#b2b5be" stroke-width="0.3" textLength="40.19" lengthAdjust="spacingAndGlyphs">160.00</text>
<text x="795.40" y="213.7" font-size="14" font-weight="normal" fill="#b2b5be" stroke="#b2b5be" stroke-width="0.3" textLength="40.19" lengthAdjust="spacingAndGlyphs">140.00</text>
<text x="795.40" y="274.7" font-size="14" font-weight="normal" fill="#b2b5be" stroke="#b2b5be" stroke-width="0.3" textLength="40.19" lengthAdjust="spacingAndGlyphs">120.00</text>
<text x="795.40" y="335.7" font-size="14" font-weight="normal" fill="#b2b5be" stroke="#b2b5be" stroke-width="0.3" textLength="40.19" lengthAdjust="spacingAndGlyphs">100.00</text>
<text x="795.69" y="396.7" font-size="14" font-weight="normal" fill="#b2b5be" stroke="#b2b5be" stroke-width="0.3" textLength="33.13" lengthAdjust="spacingAndGlyphs">80.00</text>
<g clip-path="url(#pax)"><text x="795.63" y="457.7" font-size="14" font-weight="normal" fill="#b2b5be" stroke="#b2b5be" stroke-width="0.3" textLength="33.19" lengthAdjust="spacingAndGlyphs">60.00</text></g>
<path d="M787,87 H839 a2,2 0 0 1 2,2 V103 a2,2 0 0 1 -2,2 H787 Z" fill="#0c9c84"/>
<path d="M787,398 H842 a2,2 0 0 1 2,2 V414.3 a2,2 0 0 1 -2,2 H787 Z" fill="#0c9c84"/>
<circle cx="160.0" cy="441.1" r="12.6" fill="#131722"/>
<circle cx="160.0" cy="441.1" r="10.9" fill="#131722" stroke="#f5b10c" stroke-width="2.1"/>
<text x="155.70" y="445.90" font-size="13.8" font-weight="bold" fill="#f5b10c" stroke="#f5b10c" stroke-width="0.5" textLength="8.8" lengthAdjust="spacingAndGlyphs">C</text>
<rect x="158.2" y="429.8" width="22.8" height="22.8" rx="4" fill="#131722"/>
<rect x="160.0" y="431.59999999999997" width="19.2" height="19.2" rx="2.2" fill="#131722" stroke="#8b8e96" stroke-width="1.9"/>
<text x="166.05" y="446.00" font-size="13.4" fill="#b4b6bc" stroke="#b4b6bc" stroke-width="0.45" textLength="7.6" lengthAdjust="spacingAndGlyphs">E</text>
<circle cx="297.6" cy="441.2" r="12.6" fill="#131722"/>
<circle cx="297.6" cy="441.2" r="10.9" fill="#131722" stroke="#e35ff2" stroke-width="2.1"/>
<text x="294.00" y="446.00" font-size="13.8" font-weight="bold" fill="#e35ff2" stroke="#e35ff2" stroke-width="0.5" textLength="7.4" lengthAdjust="spacingAndGlyphs">S</text>
<rect x="479.0" y="429.70000000000005" width="22.8" height="22.8" rx="4" fill="#131722"/>
<rect x="480.79999999999995" y="431.5" width="19.2" height="19.2" rx="2.2" fill="#131722" stroke="#8b8e96" stroke-width="1.9"/>
<text x="486.85" y="445.90" font-size="13.4" fill="#b4b6bc" stroke="#b4b6bc" stroke-width="0.45" textLength="7.6" lengthAdjust="spacingAndGlyphs">E</text>
<circle cx="643.9" cy="441.1" r="12.6" fill="#131722"/>
<circle cx="643.9" cy="441.1" r="10.9" fill="#131722" stroke="#f5b10c" stroke-width="2.1"/>
<text x="639.60" y="445.90" font-size="13.8" font-weight="bold" fill="#f5b10c" stroke="#f5b10c" stroke-width="0.5" textLength="8.8" lengthAdjust="spacingAndGlyphs">C</text>
<path d="M11.2,500.1 H20 V510.8 H15.6 V504.1 H11.2 Z" fill="#d1d4dc"/>
<circle cx="23.4" cy="502.2" r="2.1" fill="#d1d4dc"/>
<path d="M27.4,500.1 H32.9 L29.1,510.8 H23.6 Z" fill="#d1d4dc"/>
<text x="796.22" y="100.9" font-size="14" font-weight="normal" fill="#ffffff" stroke="#ffffff" stroke-width="0.3" textLength="39.24" lengthAdjust="spacingAndGlyphs">177.00</text>
<text x="795.78" y="411.8" font-size="14" font-weight="normal" fill="#ffffff" stroke="#ffffff" stroke-width="0.3" textLength="43.25" lengthAdjust="spacingAndGlyphs">6.641M</text>
<text x="45.49" y="476.0" font-size="14" font-weight="normal" fill="#b2b5be" stroke="#b2b5be" stroke-width="0.3" textLength="21.24" lengthAdjust="spacingAndGlyphs">Oct</text>
<text x="161.58" y="476.0" font-size="14" font-weight="normal" fill="#b2b5be" stroke="#b2b5be" stroke-width="0.3" textLength="23.08" lengthAdjust="spacingAndGlyphs">Nov</text>
<text x="264.20" y="476.0" font-size="14" font-weight="normal" fill="#b2b5be" stroke="#b2b5be" stroke-width="0.3" textLength="22.25" lengthAdjust="spacingAndGlyphs">Dec</text>
<text x="483.67" y="476.0" font-size="14" font-weight="normal" fill="#b2b5be" stroke="#b2b5be" stroke-width="0.3" textLength="21.81" lengthAdjust="spacingAndGlyphs">Feb</text>
<text x="582.45" y="476.0" font-size="14" font-weight="normal" fill="#b2b5be" stroke="#b2b5be" stroke-width="0.3">5</text>
<text x="672.47" y="476.0" font-size="14" font-weight="normal" fill="#b2b5be" stroke="#b2b5be" stroke-width="0.3" textLength="20.97" lengthAdjust="spacingAndGlyphs">Apr</text>
<text x="767.58" y="476.0" font-size="14" font-weight="normal" fill="#b2b5be" stroke="#b2b5be" stroke-width="0.3" textLength="13.94" lengthAdjust="spacingAndGlyphs">27</text>
<text x="377.30" y="476.0" font-size="14" font-weight="bold" fill="#d1d4dc" stroke="#d1d4dc" stroke-width="0.3" textLength="30.35" lengthAdjust="spacingAndGlyphs">2026</text>
<text x="19.85" y="33.1" font-size="13" font-weight="normal" fill="#b2b5be" stroke="#b2b5be" stroke-width="0.3" textLength="43.56" lengthAdjust="spacingAndGlyphs">VIC, 1D</text>
<text x="70.44" y="33.1" font-size="13" font-weight="normal" fill="#b2b5be" stroke="#b2b5be" stroke-width="0.3">O</text>
<text x="81.51" y="33.1" font-size="13" font-weight="normal" fill="#12a186" stroke="#12a186" stroke-width="0.3" textLength="37.43" lengthAdjust="spacingAndGlyphs">166.20</text>
<text x="126.78" y="33.1" font-size="13" font-weight="normal" fill="#b2b5be" stroke="#b2b5be" stroke-width="0.3">H</text>
<text x="135.99" y="33.1" font-size="13" font-weight="normal" fill="#12a186" stroke="#12a186" stroke-width="0.3" textLength="39.27" lengthAdjust="spacingAndGlyphs">177.00</text>
<text x="183.21" y="33.1" font-size="13" font-weight="normal" fill="#b2b5be" stroke="#b2b5be" stroke-width="0.3">L</text>
<text x="190.87" y="33.1" font-size="13" font-weight="normal" fill="#12a186" stroke="#12a186" stroke-width="0.3" textLength="38.31" lengthAdjust="spacingAndGlyphs">166.20</text>
<text x="236.48" y="33.1" font-size="13" font-weight="normal" fill="#b2b5be" stroke="#b2b5be" stroke-width="0.3">C</text>
<text x="245.07" y="33.1" font-size="13" font-weight="normal" fill="#12a186" stroke="#12a186" stroke-width="0.3" textLength="39.37" lengthAdjust="spacingAndGlyphs">177.00</text>
<text x="292.03" y="33.1" font-size="13" font-weight="normal" fill="#12a186" stroke="#12a186" stroke-width="0.3" textLength="93.39" lengthAdjust="spacingAndGlyphs">+11.50 (+6.95%)</text>
<text x="20.59" y="51.0" font-size="13" font-weight="normal" fill="#b2b5be" stroke="#b2b5be" stroke-width="0.3" textLength="94.91" lengthAdjust="spacingAndGlyphs">Volume (SMA, 9)</text>
<text x="123.36" y="51.0" font-size="13" font-weight="normal" fill="#12a186" stroke="#12a186" stroke-width="0.3" textLength="42.97" lengthAdjust="spacingAndGlyphs">6.641M</text>
<text x="36.97" y="510.9" font-size="14" font-weight="normal" fill="#d1d4dc" stroke="#d1d4dc" stroke-width="0.35" textLength="76.66" lengthAdjust="spacingAndGlyphs">TradingView</text>
</svg>
</body></html>
